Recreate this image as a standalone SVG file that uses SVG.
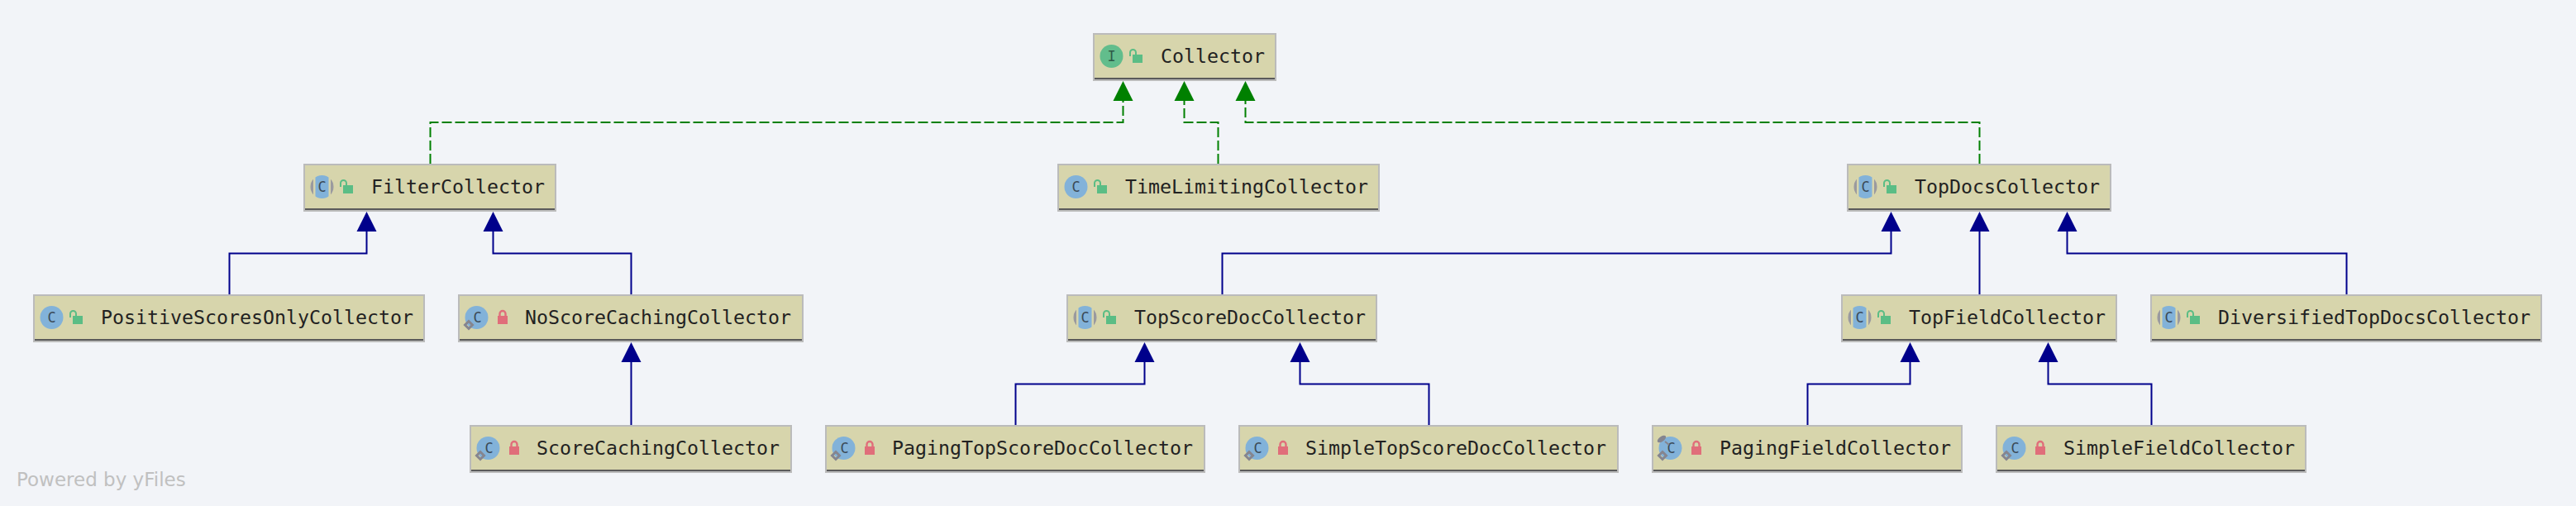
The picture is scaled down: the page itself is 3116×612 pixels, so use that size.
<svg xmlns="http://www.w3.org/2000/svg" width="3116" height="612" viewBox="0 0 3116 612">
<style>
.box{fill:#d7d5ac;stroke:#bbbbbb;stroke-width:2}
.bar{stroke:#5a5a5a;stroke-width:2;fill:none}
.t{font-family:"DejaVu Sans Mono","Liberation Mono",monospace;font-size:23.25px;fill:#222222}
.ic{font-family:"DejaVu Sans Mono","Liberation Mono",monospace;font-size:17px;fill:#3b4a57;text-anchor:middle}
.impl{fill:none;stroke:#008000;stroke-width:2;stroke-dasharray:12 4;marker-end:url(#ag)}
.ext{fill:none;stroke:#00008b;stroke-width:2;marker-end:url(#ab)}
.blue{fill:#82b2d9}.gray{fill:#9a9a9f}
.dia{fill:none;stroke:#85858f;stroke-width:3}
.pub{fill:#5bbd85}.pri{fill:#e06e7a}
.shp{fill:none;stroke:#5bbd85;stroke-width:2}.shc{fill:none;stroke:#e06e7a;stroke-width:2.4}
</style>
<defs>
<marker id="ag" markerUnits="userSpaceOnUse" markerWidth="24" markerHeight="24" refX="0" refY="12" orient="auto" overflow="visible"><path d="M0 0L24 12L0 24Z" fill="#008000"/></marker>
<marker id="ab" markerUnits="userSpaceOnUse" markerWidth="24" markerHeight="24" refX="0" refY="12" orient="auto" overflow="visible"><path d="M0 0L24 12L0 24Z" fill="#00008b"/></marker>
<clipPath id="cc"><circle cx="22.5" cy="28" r="14"/></clipPath>
<g id="open"><rect class="pub" x="48" y="26" width="12" height="10"/><path class="shp" d="M45 28V23.500a3.500 3.500 0 0 1 7 0V26"/></g>
<g id="lock"><rect class="pri" x="48" y="26" width="12" height="10"/><path class="shc" d="M50.500 27V23.500a3.500 3.500 0 0 1 7 0V27"/></g>
<g id="cn"><circle class="blue" cx="22.5" cy="28" r="14"/><text class="ic" x="22.5" y="34">C</text></g>
<g id="ca"><g clip-path="url(#cc)"><rect class="gray" x="8" y="14" width="4" height="28"/><rect class="gray" x="33" y="14" width="4" height="28"/><rect class="blue" x="14.5" y="14" width="16" height="28"/></g><text class="ic" x="22.5" y="34">C</text></g>
<g id="cp"><circle class="blue" cx="22.5" cy="28" r="14"/><text class="ic" x="23.5" y="34">C</text><path class="dia" d="M13 32.500L17.500 37L13 41.500L8.500 37Z"/></g>
</defs>
<rect width="3116" height="612" fill="#f2f4f8"/>
<g id="connectors">
<path class="impl" d="M520.500 198V148H1358.500V122"/>
<path class="impl" d="M1473.500 198V148H1432.500V122"/>
<path class="impl" d="M2394.500 198V148H1506.500V122"/>
<path class="ext" d="M277.500 356V306.500H443.500V280"/>
<path class="ext" d="M763.500 356V306.500H596.500V280"/>
<path class="ext" d="M763.500 514V438"/>
<path class="ext" d="M1478.500 356V306.500H2287.500V280"/>
<path class="ext" d="M2394.500 356V280"/>
<path class="ext" d="M2838.500 356V306.500H2500.500V280"/>
<path class="ext" d="M1228.500 514V464.500H1384.500V438"/>
<path class="ext" d="M1728.500 514V464.500H1572.500V438"/>
<path class="ext" d="M2186.500 514V464.500H2310.500V438"/>
<path class="ext" d="M2602.500 514V464.500H2477.500V438"/>
</g>
<g id="Collector" transform="translate(1322 40)"><rect class="box" x="1" y="1" width="220" height="56"/><path class="bar" d="M2 55H220"/><circle cx="22.500" cy="28" r="14" fill="#62bd8c"/><text class="ic" x="22.500" y="34" style="fill:#2f5a48">I</text><use href="#open"/><text class="t" x="82" y="36">Collector</text></g>
<g id="FilterCollector" transform="translate(367 198)"><rect class="box" x="1" y="1" width="304" height="56"/><path class="bar" d="M2 55H304"/><use href="#ca"/><use href="#open"/><text class="t" x="82" y="36">FilterCollector</text></g>
<g id="TimeLimitingCollector" transform="translate(1279 198)"><rect class="box" x="1" y="1" width="388" height="56"/><path class="bar" d="M2 55H388"/><use href="#cn"/><use href="#open"/><text class="t" x="82" y="36">TimeLimitingCollector</text></g>
<g id="TopDocsCollector" transform="translate(2234 198)"><rect class="box" x="1" y="1" width="318" height="56"/><path class="bar" d="M2 55H318"/><use href="#ca"/><use href="#open"/><text class="t" x="82" y="36">TopDocsCollector</text></g>
<g id="PositiveScoresOnlyCollector" transform="translate(40 356)"><rect class="box" x="1" y="1" width="472" height="56"/><path class="bar" d="M2 55H472"/><use href="#cn"/><use href="#open"/><text class="t" x="82" y="36">PositiveScoresOnlyCollector</text></g>
<g id="NoScoreCachingCollector" transform="translate(554 356)"><rect class="box" x="1" y="1" width="416" height="56"/><path class="bar" d="M2 55H416"/><use href="#cp"/><use href="#lock"/><text class="t" x="81" y="36">NoScoreCachingCollector</text></g>
<g id="TopScoreDocCollector" transform="translate(1290 356)"><rect class="box" x="1" y="1" width="374" height="56"/><path class="bar" d="M2 55H374"/><use href="#ca"/><use href="#open"/><text class="t" x="82" y="36">TopScoreDocCollector</text></g>
<g id="TopFieldCollector" transform="translate(2227 356)"><rect class="box" x="1" y="1" width="332" height="56"/><path class="bar" d="M2 55H332"/><use href="#ca"/><use href="#open"/><text class="t" x="82" y="36">TopFieldCollector</text></g>
<g id="DiversifiedTopDocsCollector" transform="translate(2601 356)"><rect class="box" x="1" y="1" width="472" height="56"/><path class="bar" d="M2 55H472"/><use href="#ca"/><use href="#open"/><text class="t" x="82" y="36">DiversifiedTopDocsCollector</text></g>
<g id="ScoreCachingCollector" transform="translate(568 514)"><rect class="box" x="1" y="1" width="388" height="56"/><path class="bar" d="M2 55H388"/><use href="#cp"/><use href="#lock"/><text class="t" x="81" y="36">ScoreCachingCollector</text></g>
<g id="PagingTopScoreDocCollector" transform="translate(998 514)"><rect class="box" x="1" y="1" width="458" height="56"/><path class="bar" d="M2 55H458"/><use href="#cp"/><use href="#lock"/><text class="t" x="81" y="36">PagingTopScoreDocCollector</text></g>
<g id="SimpleTopScoreDocCollector" transform="translate(1498 514)"><rect class="box" x="1" y="1" width="458" height="56"/><path class="bar" d="M2 55H458"/><use href="#cp"/><use href="#lock"/><text class="t" x="81" y="36">SimpleTopScoreDocCollector</text></g>
<g id="PagingFieldCollector" transform="translate(1998 514)"><rect class="box" x="1" y="1" width="374" height="56"/><path class="bar" d="M2 55H374"/><use href="#cp"/><ellipse cx="12" cy="17" rx="6" ry="3" fill="#85858f" transform="rotate(-35 12 17)"/><path d="M16 20L21 24" stroke="#85858f" stroke-width="2"/><use href="#lock"/><text class="t" x="82" y="36">PagingFieldCollector</text></g>
<g id="SimpleFieldCollector" transform="translate(2414 514)"><rect class="box" x="1" y="1" width="374" height="56"/><path class="bar" d="M2 55H374"/><use href="#cp"/><use href="#lock"/><text class="t" x="82" y="36">SimpleFieldCollector</text></g>
<text id="watermark" x="20" y="588" font-family="DejaVu Sans, sans-serif" font-size="23" fill="#c0c0c0">Powered by yFiles</text>
</svg>
